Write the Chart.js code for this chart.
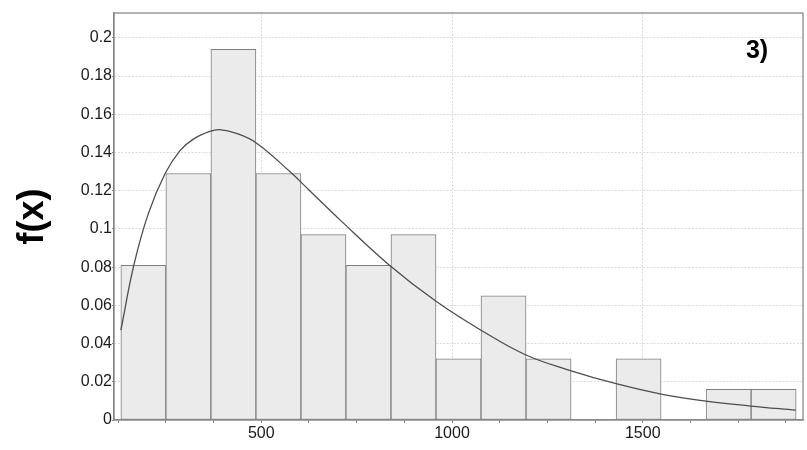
<!DOCTYPE html>
<html>
<head>
<meta charset="utf-8">
<script src="https://cdn.jsdelivr.net/npm/chart.js@4/dist/chart.umd.min.js"></script>
<style>
  body { margin: 0; background: #fff; }
</style>
</head>
<body>
<canvas id="histChart" width="807" height="450"></canvas>
<script>
// histogram bins (edges) and relative frequency per bin
const binEdges = [132, 250, 368, 486, 604, 722, 840, 958, 1076, 1194, 1312, 1430, 1548, 1666, 1784, 1902];
const binFreq = [0.081, 0.129, 0.194, 0.129, 0.097, 0.081, 0.097, 0.032, 0.065, 0.032, 0, 0.032, 0, 0.016, 0.016];

// fitted density curve
const curveX = [132, 166, 204, 248, 287, 322, 365, 391, 435, 487, 575, 627, 705, 836, 959, 1076, 1194, 1308, 1430, 1548, 1665, 1783, 1901];
const curveY = [0.047, 0.081, 0.108, 0.129, 0.141, 0.147, 0.151, 0.152, 0.150, 0.145, 0.130, 0.120, 0.105, 0.081, 0.062, 0.047, 0.034, 0.026, 0.019, 0.0136, 0.0099, 0.0073, 0.0052];

const xTicks = [500, 1000, 1500];
const yTicks = [0, 0.02, 0.04, 0.06, 0.08, 0.1, 0.12, 0.14, 0.16, 0.18, 0.2];
const panelLabel = '3)';

const FONT = "'Liberation Sans', Arial, sans-serif";

const bars = binFreq.map((v, i) => ({ x: (binEdges[i] + binEdges[i + 1]) / 2, y: v }));
const curve = curveX.map((x, i) => ({ x: x, y: curveY[i] }));

const isMajor = (list, v) => list.some(t => Math.abs(t - v) < 1e-6);

// box around the plot area + panel label
const framePlugin = {
    id: 'frame',
    afterDraw(chart) {
        const { ctx, chartArea: a } = chart;
        ctx.save();
        ctx.strokeStyle = '#8a8a8a';
        ctx.lineWidth = 1.3;
        ctx.strokeRect(a.left, a.top, a.right - a.left, a.bottom - a.top);
        ctx.fillStyle = '#000';
        ctx.font = 'bold 25px ' + FONT;
        ctx.textAlign = 'center';
        ctx.textBaseline = 'middle';
        ctx.fillText(panelLabel, a.right - 46, a.top + 38);
        ctx.restore();
    }
};

new Chart('histChart', {
    type: 'bar',
    data: {
        datasets: [
            {
                type: 'line',
                data: curve,
                borderColor: '#4d4d4d',
                borderWidth: 1.3,
                pointRadius: 0,
                fill: false,
                tension: 0.4,
                order: 0
            },
            {
                type: 'bar',
                data: bars,
                backgroundColor: '#ebebeb',
                borderColor: '#7f7f7f',
                borderWidth: 1,
                borderSkipped: false,
                barPercentage: 1,
                categoryPercentage: 1,
                order: 1
            }
        ]
    },
    options: {
        responsive: false,
        animation: false,
        layout: { padding: { left: 0, top: 13, right: 4, bottom: 0 } },
        plugins: {
            legend: { display: false },
            tooltip: { enabled: false }
        },
        scales: {
            x: {
                type: 'linear',
                min: 114,
                max: 1920,
                offset: false,
                afterBuildTicks: scale => {
                    const ticks = [];
                    for (let v = 125; v < scale.max; v += 125) ticks.push({ value: v });
                    scale.ticks = ticks;
                },
                afterFit: scale => { scale.height = 30; },
                ticks: {
                    autoSkip: false,
                    maxRotation: 0,
                    padding: 1,
                    color: '#1a1a1a',
                    font: { family: FONT, size: 16 },
                    callback: v => isMajor(xTicks, v) ? String(v) : ''
                },
                grid: {
                    offset: false,
                    color: c => c.tick && isMajor(xTicks, c.tick.value) ? '#dadada' : 'rgba(0,0,0,0)',
                    tickColor: '#808080',
                    tickLength: 3
                },
                border: { color: '#808080', width: 1.3, dash: [2, 1.5] }
            },
            y: {
                type: 'linear',
                min: 0,
                max: 0.213,
                afterBuildTicks: scale => {
                    const ticks = [];
                    for (let i = 0; i <= 20; i++) ticks.push({ value: i / 100 });
                    scale.ticks = ticks;
                },
                afterFit: scale => { scale.width = 114; },
                ticks: {
                    padding: 0,
                    color: '#1a1a1a',
                    font: { family: FONT, size: 16 },
                    callback: v => isMajor(yTicks, v) ? String(Math.round(v * 100) / 100) : ''
                },
                grid: {
                    color: c => c.tick && isMajor(yTicks, c.tick.value) && c.tick.value > 0 ? '#dadada' : 'rgba(0,0,0,0)',
                    tickColor: '#808080',
                    tickLength: 2
                },
                border: { color: '#808080', width: 1.3, dash: [2, 1.5] },
                title: {
                    display: true,
                    text: 'f(x)',
                    color: '#000',
                    font: { family: FONT, size: 36, weight: 'bold' },
                    padding: { top: 11, bottom: 0 }
                }
            }
        }
    },
    plugins: [framePlugin]
});
</script>
</body>
</html>
